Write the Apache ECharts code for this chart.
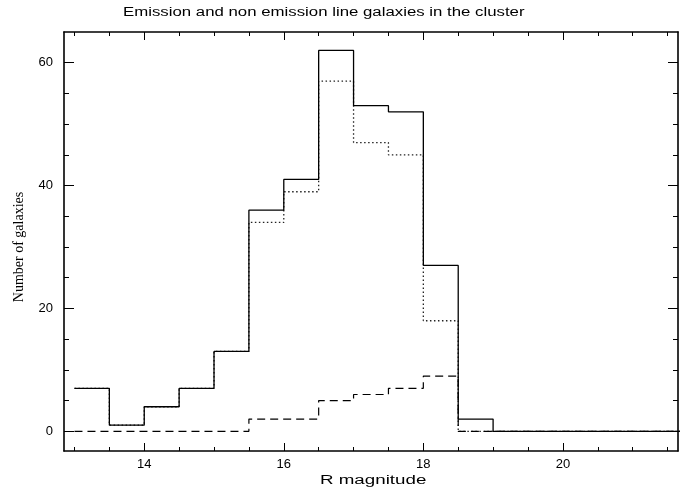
<!DOCTYPE html>
<html>
<head>
<meta charset="utf-8">
<script src="https://cdn.jsdelivr.net/npm/echarts@6/dist/echarts.min.js"></script>
<style>html,body{margin:0;padding:0;background:#fff}#c{width:681px;height:488px}</style>
</head>
<body>
<div id="c"></div>
<script>
// Bin edges (R magnitude), 0.5 mag bins
const binEdges = [13, 13.5, 14, 14.5, 15, 15.5, 16, 16.5, 17, 17.5, 18, 18.5, 19, 19.5, 20, 20.5, 21, 21.5, 22];
// Counts per bin (bin i spans binEdges[i]..binEdges[i+1])
const allGalaxies   = [7, 1, 4, 7, 13, 36, 41, 62, 53, 52, 27, 2, 0, 0, 0, 0, 0, 0];
const nonEmission   = [7, 1, 4, 7, 13, 34, 39, 57, 47, 45, 18, 0, 0, 0, 0, 0, 0, 0];
const emission      = [0, 0, 0, 0, 0,  2,  2,  5,  6,  7,  9,  0, 0, 0, 0, 0, 0, 0];

const xMajorTicks = [14, 16, 18, 20];
const xMinorTicks = [13, 13.5, 14, 14.5, 15, 15.5, 16, 16.5, 17, 17.5, 18, 18.5, 19, 19.5, 20, 20.5, 21, 21.5];
const yMajorTicks = [0, 20, 40, 60];
const yMinorTicks = [0, 5, 10, 15, 20, 25, 30, 35, 40, 45, 50, 55, 60];

const titleText = 'Emission and non emission line galaxies in the cluster';
const xName = 'R magnitude';
const yName = 'Number of galaxies';

function steps(vals) {
  const pts = vals.map((v, i) => [binEdges[i], v]);
  pts.push([binEdges[vals.length], vals[vals.length - 1]]);
  return pts;
}

const X_MIN = 12.85, X_MAX = 21.65, Y_MIN = -3.2, Y_MAX = 65;
const lineSty = { show: true, onZero: false, lineStyle: { color: '#000', width: 1.6 } };
const noLine = { show: false, onZero: false };
const font = 'Liberation Sans, Arial, sans-serif';

function xAx(pos, ticks, len, labels, line) {
  return {
    type: 'value', position: pos, min: X_MIN, max: X_MAX,
    axisLine: line ? lineSty : noLine,
    axisTick: { show: true, inside: true, length: len, customValues: ticks, lineStyle: { color: '#000', width: 1 } },
    axisLabel: labels ? { show: true, customValues: labels, color: '#000', fontSize: 13, fontFamily: font, margin: 7 } : { show: false },
    splitLine: { show: false }
  };
}
function yAx(pos, ticks, len, labels, line) {
  return {
    type: 'value', position: pos, min: Y_MIN, max: Y_MAX,
    axisLine: line ? lineSty : noLine,
    axisTick: { show: true, inside: true, length: len, customValues: ticks, lineStyle: { color: '#000', width: 1 } },
    axisLabel: labels ? { show: true, customValues: labels, color: '#000', fontSize: 13, fontFamily: font, margin: 11 } : { show: false },
    splitLine: { show: false }
  };
}

const chart = echarts.init(document.getElementById('c'), null, { renderer: 'canvas' });
chart.setOption({
  animation: false,
  backgroundColor: '#fff',
  graphic: [
    { type: 'text', x: 123, y: 13, scaleX: 1.4, silent: true,
      style: { text: titleText, font: '12px Liberation Sans, Arial, sans-serif', fill: '#000', textAlign: 'left', textVerticalAlign: 'middle' } },
    { type: 'text', x: 320, y: 481, scaleX: 1.5, silent: true,
      style: { text: xName, font: '12.5px Liberation Sans, Arial, sans-serif', fill: '#000', textAlign: 'left', textVerticalAlign: 'middle' } },
    { type: 'text', x: 19, y: 247, rotation: Math.PI / 2, silent: true,
      style: { text: yName, font: '14px Liberation Serif, Times New Roman, serif', fill: '#000', textAlign: 'center', textVerticalAlign: 'middle' } }
  ],
  grid: { left: 64, right: 3, top: 32, bottom: 37 },
  xAxis: [
    xAx('bottom', xMajorTicks, 8, xMajorTicks, true),
    xAx('bottom', xMinorTicks, 4, null, false),
    xAx('top', xMajorTicks, 8, null, true),
    xAx('top', xMinorTicks, 4, null, false)
  ],
  yAxis: [
    yAx('left', yMajorTicks, 10, yMajorTicks, true),
    yAx('left', yMinorTicks, 5, null, false),
    yAx('right', yMajorTicks, 10, null, true),
    yAx('right', yMinorTicks, 5, null, false)
  ],
  series: [
    { type: 'line', name: 'non-emission', step: 'end', data: steps(nonEmission), showSymbol: false, symbol: 'none',
      lineStyle: { color: '#222', width: 1.3, type: [1.5, 2.5] }, z: 2 },
    { type: 'line', name: 'emission', step: 'end', data: steps(emission), showSymbol: false, symbol: 'none',
      lineStyle: { color: '#000', width: 1.2, type: [8, 5] }, z: 3 },
    { type: 'line', name: 'all', step: 'end', data: steps(allGalaxies), showSymbol: false, symbol: 'none',
      lineStyle: { color: '#000', width: 1.3 }, z: 4 }
  ]
});
</script>
</body>
</html>
